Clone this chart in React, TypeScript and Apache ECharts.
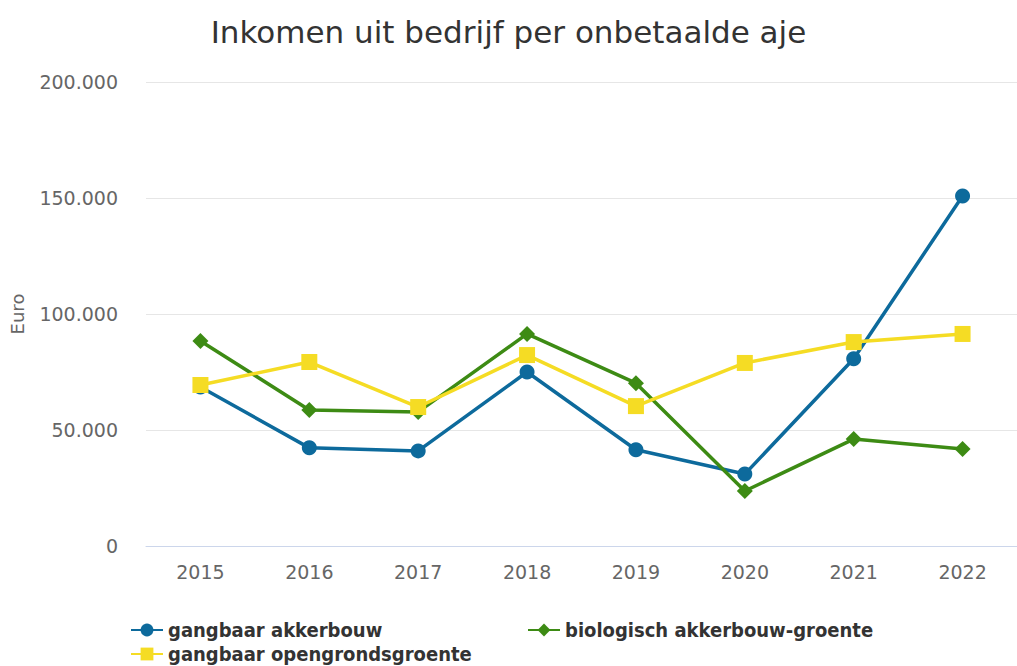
import React, { useEffect, useRef } from "react";
import * as echarts from "echarts";

const years = ["2015", "2016", "2017", "2018", "2019", "2020", "2021", "2022"];
const gangbaarAkkerbouw = [68500, 42300, 41000, 75000, 41500, 31000, 80700, 150900];
const biologisch = [88400, 58600, 57800, 91400, 70200, 23700, 46100, 41800];
const opengronds = [69400, 79300, 59900, 82300, 60300, 78900, 87900, 91400];

const names = ["gangbaar akkerbouw", "biologisch akkerbouw-groente", "gangbaar opengrondsgroente"];
const colors = ["#0d6a9c", "#3d8b14", "#f5dc24"];

export default function App() {
  const ref = useRef<HTMLDivElement>(null);
  useEffect(() => {
    const chart = echarts.init(ref.current!, undefined, { renderer: "svg" });
    const font = "'DejaVu Sans', sans-serif";
    const legendFont = "'DejaVu Sans Condensed', 'DejaVu Sans', sans-serif";
    const legendCommon = {
      itemWidth: 32,
      itemHeight: 16,
      itemGap: 6,
      textStyle: { fontSize: 20, fontWeight: "bold", color: "#333", fontFamily: legendFont },
    };
    chart.setOption({
      animation: false,
      textStyle: { fontFamily: font },
      title: {
        text: "Inkomen uit bedrijf per onbetaalde aje",
        left: "center",
        top: 11,
        textStyle: { fontSize: 31, fontWeight: "normal", color: "#333", fontFamily: font },
      },
      grid: { left: 144, right: -3, top: 82, bottom: 120 },
      legend: [
        { ...legendCommon, data: [names[0]], left: 125, top: 615 },
        { ...legendCommon, data: [names[1]], left: 522, top: 615 },
        { ...legendCommon, data: [names[2]], left: 125, top: 639 },
      ],
      xAxis: {
        type: "category",
        data: years,
        boundaryGap: true,
        axisLine: { lineStyle: { color: "#ccd6eb", width: 1 } },
        axisTick: { show: false },
        axisLabel: { color: "#666", fontSize: 19, margin: 16, fontFamily: font },
      },
      yAxis: {
        type: "value",
        min: 0,
        max: 200000,
        interval: 50000,
        name: "Euro",
        nameLocation: "middle",
        nameGap: 120,
        nameRotate: 90,
        nameTextStyle: { color: "#666", fontSize: 18, fontFamily: font },
        axisLabel: {
          color: "#666",
          fontSize: 19,
          margin: 28,
          fontFamily: font,
          formatter: (v: number) => v.toString().replace(/\B(?=(\d{3})+(?!\d))/g, "."),
        },
        splitLine: { lineStyle: { color: "#e6e6e6", width: 1 } },
      },
      series: [
        {
          name: names[0],
          type: "line",
          data: gangbaarAkkerbouw,
          symbol: "circle",
          symbolSize: 15,
          itemStyle: { color: colors[0] },
          lineStyle: { color: colors[0], width: 3.5 },
          z: 3,
        },
        {
          name: names[1],
          type: "line",
          data: biologisch,
          symbol: "diamond",
          symbolSize: 16,
          itemStyle: { color: colors[1] },
          lineStyle: { color: colors[1], width: 3.5 },
          z: 4,
        },
        {
          name: names[2],
          type: "line",
          data: opengronds,
          symbol: "rect",
          symbolSize: 16,
          itemStyle: { color: colors[2] },
          lineStyle: { color: colors[2], width: 3.5 },
          z: 5,
        },
      ],
    });
    return () => chart.dispose();
  }, []);
  return (
    <div
      ref={ref}
      style={{ position: "absolute", left: 0, top: 0, width: 1017, height: 666, background: "#fff" }}
    />
  );
}
